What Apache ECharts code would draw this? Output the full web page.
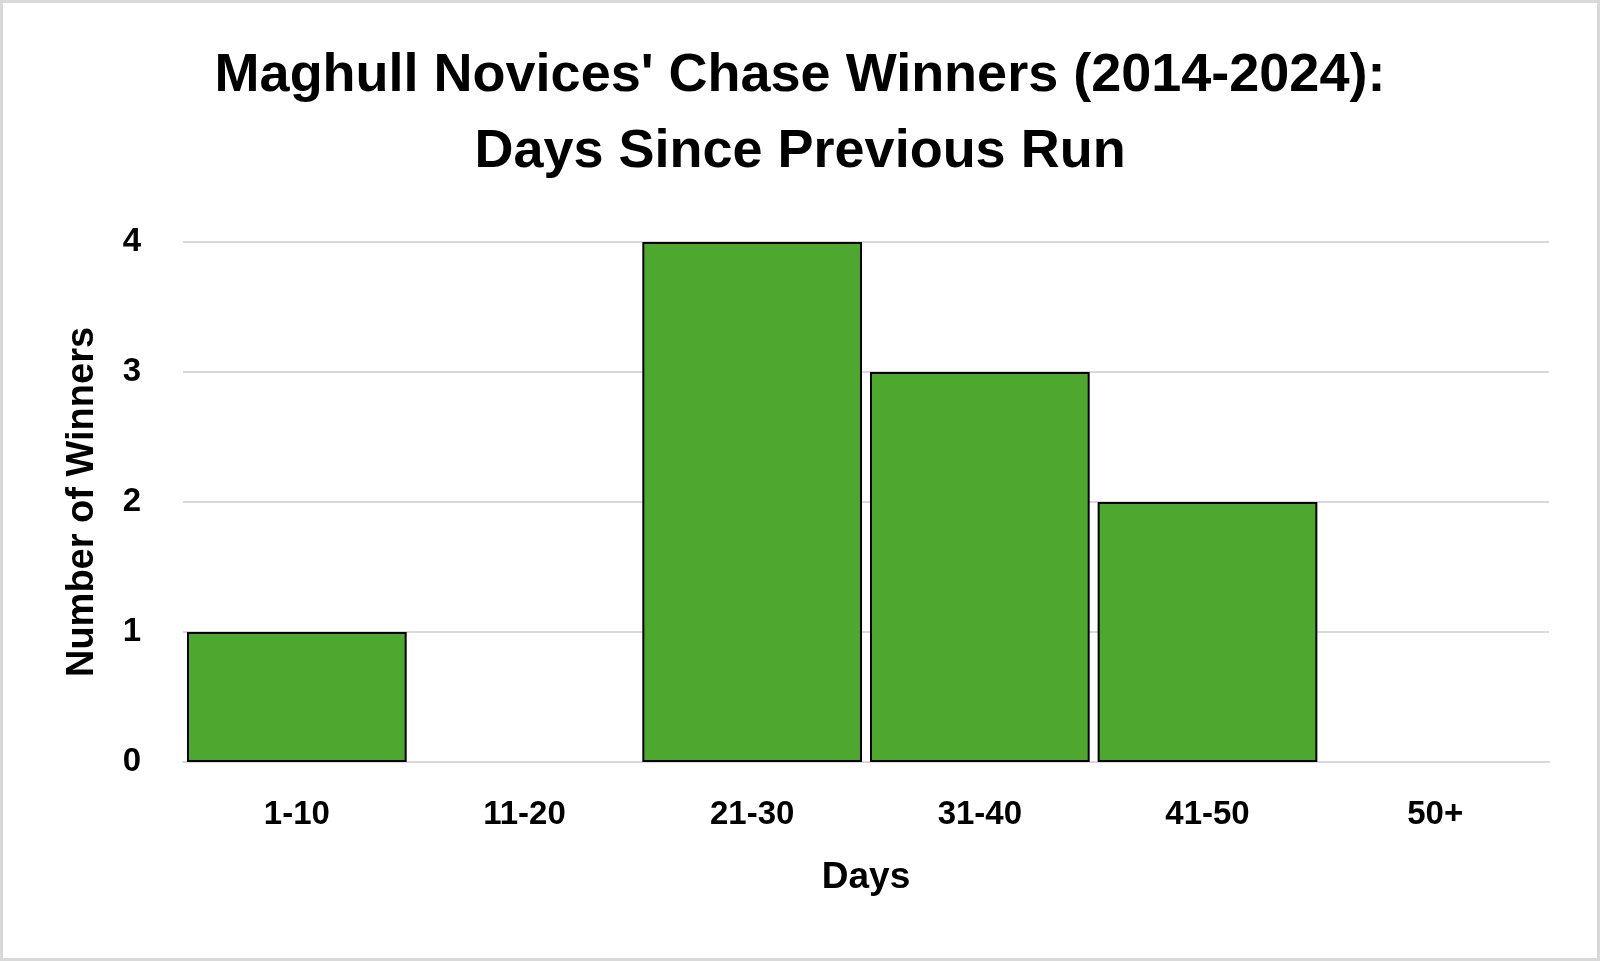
<!DOCTYPE html>
<html>
<head>
<meta charset="utf-8">
<script src="https://cdn.jsdelivr.net/npm/echarts@6/dist/echarts.min.js"></script>
<style>
html,body{margin:0;padding:0;background:#fff;}
#chart{width:1600px;height:961px;}
</style>
</head>
<body>
<div id="chart"></div>
<script>
const titleText = "Maghull Novices' Chase Winners (2014-2024):\nDays Since Previous Run";
const categories = ['1-10', '11-20', '21-30', '31-40', '41-50', '50+'];
const winners = [1, 0, 4, 3, 2, 0];
const yTicks = [0, 1, 2, 3, 4];
const xAxisTitle = 'Days';
const yAxisTitle = 'Number of Winners';

const chart = echarts.init(document.getElementById('chart'), null, {renderer: 'canvas'});
const font = '"Liberation Sans", Arial, sans-serif';
chart.setOption({
  backgroundColor: '#ffffff',
  animation: false,
  title: {
    text: titleText,
    left: 'center',
    top: 33,
    textStyle: {
      fontFamily: font,
      fontWeight: 'bold',
      fontSize: 54,
      lineHeight: 76,
      color: '#000'
    }
  },
  graphic: [{
    type: 'rect',
    shape: {x: 1.5, y: 1.5, width: 1597, height: 958},
    style: {fill: 'none', stroke: '#d9d9d9', lineWidth: 3},
    silent: true
  }],
  grid: {left: 183, right: 51, top: 242, bottom: 199},
  xAxis: {
    type: 'category',
    data: categories,
    name: xAxisTitle,
    nameLocation: 'middle',
    nameGap: 97,
    nameTextStyle: {fontFamily: font, fontWeight: 'bold', fontSize: 37, color: '#000'},
    axisLine: {show: true, lineStyle: {color: '#d9d9d9', width: 2}},
    axisTick: {show: false},
    axisLabel: {fontFamily: font, fontWeight: 'bold', fontSize: 33, color: '#000', margin: 36}
  },
  yAxis: {
    type: 'value',
    min: yTicks[0],
    max: yTicks[yTicks.length - 1],
    interval: 1,
    name: yAxisTitle,
    nameLocation: 'middle',
    nameGap: 81,
    nameTextStyle: {fontFamily: font, fontWeight: 'bold', fontSize: 38, color: '#000'},
    axisLine: {show: false},
    axisTick: {show: false},
    splitLine: {show: true, lineStyle: {color: '#d9d9d9', width: 2}},
    axisLabel: {fontFamily: font, fontWeight: 'bold', fontSize: 33, color: '#000', margin: 42}
  },
  series: [{
    type: 'bar',
    data: winners.map(v => (v === 0 ? null : v)),
    barCategoryGap: '3.5%',
    itemStyle: {color: '#4ea72e', borderColor: '#000', borderWidth: 2}
  }]
});
</script>
</body>
</html>
